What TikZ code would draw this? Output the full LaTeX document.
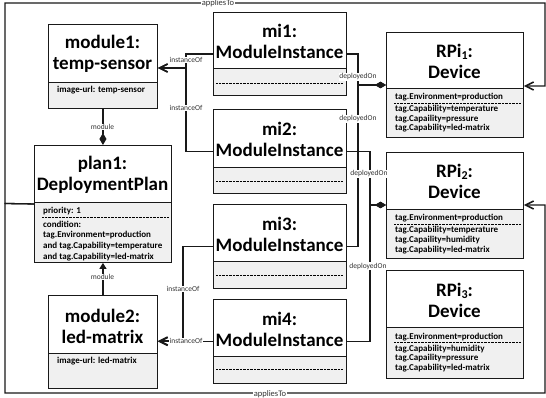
\documentclass[tikz,border=0pt]{standalone}
\usepackage{fontspec}
\setmainfont{Carlito}
\usetikzlibrary{arrows.meta}
\definecolor{lowgrey}{HTML}{F0F0F0}
\newcommand\subn[1]{\raisebox{-2.6pt}{\fontsize{12}{12}\selectfont #1}}
\begin{document}
\begin{tikzpicture}[x=1pt,y=-1pt,
  hdr/.store in=\hdrh, hdr=57,
  umlbox/.style={draw=black!90, line width=0.9pt, fill=white, inner sep=0pt, anchor=north west,
    path picture={
      \fill[lowgrey] ([yshift=-\hdrh pt]path picture bounding box.north west) rectangle (path picture bounding box.south east);
      \draw[line width=1.6pt, black!90] ([yshift=-\hdrh pt]path picture bounding box.north west) -- ([yshift=-\hdrh pt]path picture bounding box.north east);
    }},
  title/.style={align=center, font=\fontsize{19}{21}\selectfont\bfseries, inner sep=0pt},
  attr/.style={anchor=base west, font=\fontsize{9}{10}\selectfont\bfseries, inner sep=0pt},
  dotsep/.style={line width=0.6pt, dash pattern=on 0.7pt off 0.7pt},
  conn/.style={line width=1.2pt, black!90},
  lab/.style={fill=white, inner sep=0.6pt, font=\fontsize{7.5}{8}\selectfont, text=black!80},
  barb/.style={-{Straight Barb[length=8pt,width=8pt,line width=1.6pt]}},
  diam/.style={-{Diamond[length=11pt,width=6.5pt]}}
]
\useasboundingbox (0,0) rectangle (546,398);

% boxes
\node[umlbox, hdr=58, minimum width=109pt, minimum height=84pt] (module1) at (48,24) {};
\node[umlbox, hdr=57, minimum width=137pt, minimum height=117pt] (plan1) at (34,145) {};
\node[umlbox, hdr=58, minimum width=109pt, minimum height=93pt] (module2) at (48,295) {};
\node[umlbox, hdr=56, minimum width=133pt, minimum height=83pt] (mi1) at (213,12) {};
\node[umlbox, hdr=58, minimum width=133pt, minimum height=84pt] (mi2) at (213,109) {};
\node[umlbox, hdr=57, minimum width=133pt, minimum height=84pt] (mi3) at (213,204) {};
\node[umlbox, hdr=57, minimum width=133pt, minimum height=84pt] (mi4) at (213,299) {};
\node[umlbox, hdr=56, minimum width=137pt, minimum height=105pt] (RPi1) at (386,32) {};
\node[umlbox, hdr=57, minimum width=137pt, minimum height=106pt] (RPi2) at (386,152) {};
\node[umlbox, hdr=57, minimum width=137pt, minimum height=108pt] (RPi3) at (386,270) {};

% titles
\node[title] (t-module1) at (102.5,54) {module1:\\temp-sensor};
\node[title] (t-plan1) at (102.5,175) {plan1:\\DeploymentPlan};
\node[title] (t-module2) at (102.5,326) {module2:\\led-matrix};
\node[title] (t-mi1) at (279.5,41) {mi1:\\ModuleInstance};
\node[title] (t-mi2) at (279.5,139.5) {mi2:\\ModuleInstance};
\node[title] (t-mi3) at (279.5,234) {mi3:\\ModuleInstance};
\node[title] (t-mi4) at (279.5,329) {mi4:\\ModuleInstance};
\node[title] (t-RPi1) at (454.5,61) {RPi\subn{1}:\\Device};
\node[title] (t-RPi2) at (454.5,181) {RPi\subn{2}:\\Device};
\node[title] (t-RPi3) at (454.5,300) {RPi\subn{3}:\\Device};

% attributes
\node[attr] (a-module1) at (57,93) {image-url: temp-sensor};
\node[attr] (a-module2) at (57,363) {image-url: led-matrix};
\node[attr] (a-plan1-0) at (43,214) {priority: 1};
\draw[dotsep] (42,217.5) -- (169,217.5);
\foreach \t [count=\i] in {condition:,tag.Environment=production,and tag.Capability=temperature,and tag.Capability=led-matrix}
  \node[attr] (a-plan1-\i) at (43,227+10.7*\i-10.7) {\t};

\node[attr] (a-RPi1-0) at (395,100) {tag.Environment=production};
\draw[dotsep] (394,103) -- (521,103);
\foreach \t [count=\i] in {tag.Capability=temperature,tag.Capaility=pressure,tag.Capability=led-matrix}
  \node[attr] (a-RPi1-\i) at (395,112+9.5*\i-9.5) {\t};
\node[attr] (a-RPi2-0) at (395,221) {tag.Environment=production};
\draw[dotsep] (394,224) -- (521,224);
\foreach \t [count=\i] in {tag.Capability=temperature,tag.Capaility=humidity,tag.Capability=led-matrix}
  \node[attr] (a-RPi2-\i) at (395,233+9.5*\i-9.5) {\t};
\node[attr] (a-RPi3-0) at (395,339) {tag.Environment=production};
\draw[dotsep] (394,342) -- (521,342);
\foreach \t [count=\i] in {tag.Capability=humidity,tag.Capaility=pressure,tag.Capability=led-matrix}
  \node[attr] (a-RPi3-\i) at (395,351+9.5*\i-9.5) {\t};

% dotted separators in module instances
\draw[dotsep] (216,83) -- (343,83);
\draw[dotsep] (216,181) -- (343,181);
\draw[dotsep] (216,275) -- (343,275);
\draw[dotsep] (216,369) -- (343,369);

% module connectors
\draw[conn, -{Diamond[length=12pt,width=7pt]}] (module1.south) -- (plan1.north);
\draw[conn, -{Triangle[length=6pt,width=7pt]}] (module2.north) -- (plan1.south);
\node[lab] (l-mod1) at (102.5,127) {module};
\node[lab] (l-mod2) at (102.5,277) {module};

% instanceOf
\coordinate (j1) at (186,68);
\coordinate (j2) at (183,341);
\draw[conn, barb] (mi1.west) -| (j1) -- (module1.east |- j1);
\draw[conn, barb] (mi2.west) -| (j1) -- (module1.east |- j1);
\draw[conn, barb] (mi3.west) -| (j2) -- (module2.east |- j2);
\draw[conn, barb] (mi4.west) -- (module2.east |- mi4.west);
\node[lab] (l-io1) at (186,60) {instanceOf};
\node[lab] (l-io2) at (186,108) {instanceOf};
\node[lab] (l-io3) at (183,289) {instanceOf};
\node[lab] (l-io4) at (186,341) {instanceOf};

% deployedOn
\coordinate (d1) at (358,85);
\coordinate (d2) at (370,205);
\draw[conn, diam] (mi1.east) -| (d1) -- (RPi1.west |- d1);
\draw[conn, diam] (mi3.east) -| (d1) -- (RPi1.west |- d1);
\draw[conn, diam] (mi2.east) -| (d2) -- (RPi2.west |- d2);
\draw[conn, diam] (mi4.east) -| (d2) -- (RPi2.west |- d2);
\node[lab] (l-do1) at (358,77) {deployedOn};
\node[lab] (l-do2) at (358,119) {deployedOn};
\node[lab] (l-do3) at (369,174) {deployedOn};
\node[lab] (l-do4) at (368,266) {deployedOn};

% appliesTo
\coordinate (fl) at (5,203.5);
\coordinate (ftl) at (5,3);
\coordinate (fbl) at (5,393);
\coordinate (ftr) at (545,3);
\coordinate (fbr) at (545,393);
\draw[conn, line width=1.3pt, barb] (plan1.west) -- (fl) -- (ftl) -- (ftr) -- (ftr |- 0,86) -- (RPi1.east |- 0,86);
\draw[conn, line width=1.3pt, barb] (plan1.west) -- (fl) -- (fbl) -- (fbr) -- (fbr |- d2) -- (RPi2.east |- d2);
\node[lab, font=\fontsize{8.5}{9}\selectfont] (l-at1) at (218,3.5) {appliesTo};
\node[lab, font=\fontsize{8.5}{9}\selectfont] (l-at2) at (270,394) {appliesTo};
\end{tikzpicture}
\end{document}
